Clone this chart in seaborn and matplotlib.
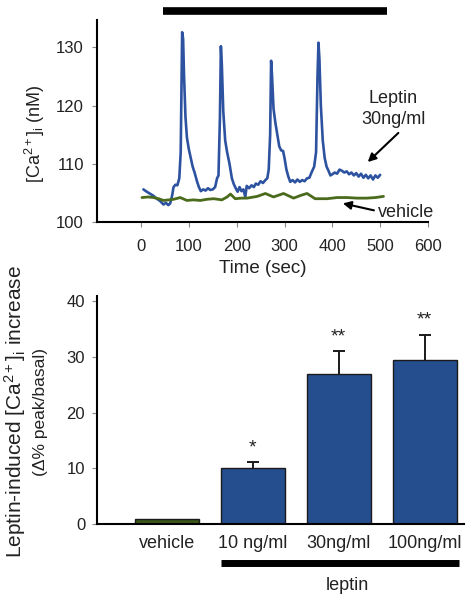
import matplotlib
matplotlib.use("Agg")
import matplotlib.pyplot as plt
import matplotlib.transforms as mtransforms
import seaborn as sns
import pandas as pd
import numpy as np

# ---------------- data ----------------
leptin_t = [5, 12, 20, 26, 33, 40, 47, 52, 57, 61, 65, 68, 72, 76, 80, 83, 86, 88, 90, 93,
            96, 100, 104, 108, 112, 117, 121, 125, 130, 135, 140, 145, 150, 155, 159, 162, 165, 167,
            169, 172, 176, 180, 185, 190, 194, 198, 202, 206, 210, 214, 218, 221, 226, 231, 236,
            240, 245, 250, 255, 260, 264, 267, 270, 272, 274, 277, 281, 285, 289, 293, 297, 300,
            304, 308, 312, 317, 322, 327, 332, 337, 342, 347, 352, 357, 362, 366, 369, 371, 373,
            376, 380, 384, 388, 392, 396, 400, 405, 410, 415, 420, 425, 430, 435, 440, 445, 450,
            455, 460, 465, 470, 475, 480, 485, 490, 495, 500]
leptin_ca = [105.6, 105.2, 104.8, 104.5, 104.0, 103.6, 103.0, 103.3, 102.9, 103.2, 104.5, 106.0,
             106.4, 106.3, 107.5, 112.0, 132.6, 131.5, 125.0, 118.0, 114.5, 112.5, 111.0, 109.5,
             108.5, 107.0, 106.0, 105.3, 105.6, 105.4, 105.8, 105.5, 105.6, 106.0, 107.5, 108.0,
             118.0, 130.2, 127.0, 119.0, 114.0, 112.0, 110.0, 107.5, 106.5, 105.8, 105.2, 106.0,
             105.3, 105.6, 104.3, 106.2, 105.8, 106.3, 106.0, 106.6, 106.4, 107.0, 106.7, 107.2,
             107.5, 109.0, 115.0, 127.7, 125.0, 119.5, 117.0, 115.0, 113.0, 112.3, 112.2, 111.0,
             109.0, 107.8, 106.9, 107.2, 106.8, 107.3, 106.9, 107.2, 107.0, 107.5, 107.6, 108.6,
             109.5, 112.0, 125.0, 130.8, 128.0, 120.0, 114.0, 111.0, 109.5, 108.8, 108.0, 108.2,
             108.5, 108.3, 109.0, 108.8, 108.5, 108.7, 108.2, 108.5, 108.0, 108.4, 107.8, 108.3,
             107.6, 108.1, 107.5, 108.0, 107.3, 108.0, 107.6, 108.1]

vehicle_t = [2, 15, 26, 37, 47, 58, 68, 82, 96, 110, 124, 138, 152, 169, 180, 187, 197, 210,
             222, 243, 260, 277, 298, 319, 335, 347, 364, 389, 410, 431, 452, 472, 490, 507]
vehicle_ca = [104.2, 104.3, 104.2, 104.0, 103.7, 103.8, 103.9, 104.2, 103.7, 103.8, 103.7, 103.9,
              104.0, 103.8, 104.3, 104.8, 104.0, 104.1, 104.1, 104.4, 104.9, 104.3, 104.9, 104.1,
              104.6, 104.9, 104.0, 104.0, 104.2, 104.2, 104.1, 104.1, 104.2, 104.4]

stim_bar_sec = [45, 515]

groups = ["vehicle", "10 ng/ml", "30ng/ml", "100ng/ml"]
increase = [1.0, 10.0, 26.9, 29.5]
sem = [0.0, 1.1, 4.1, 4.5]
signif = ["", "*", "**", "**"]

top_yticks = [100, 110, 120, 130]
top_xticks = [0, 100, 200, 300, 400, 500, 600]
bot_yticks = [0, 10, 20, 30, 40]

BLUE_LINE = "#2d52a0"
GREEN_LINE = "#4a6a1c"
BLUE_BAR = "#254e8e"
GREEN_BAR = "#3b5618"

# ---------------- style ----------------
sns.set_style("ticks")
plt.rcParams["font.family"] = ["Liberation Sans", "DejaVu Sans"]
plt.rcParams["mathtext.fontset"] = "custom"
plt.rcParams["mathtext.rm"] = "Liberation Sans"
plt.rcParams["mathtext.it"] = "Liberation Sans:italic"
plt.rcParams["mathtext.bf"] = "Liberation Sans:bold"

fig = plt.figure(figsize=(4.69, 6.01), dpi=100)
W, H = 469, 601

def ax_rect(l, r, t, b):
    return [l / W, 1 - b / H, (r - l) / W, (b - t) / H]

# ---------------- top panel ----------------
ax1 = fig.add_axes(ax_rect(97, 428, 20, 222))
df_l = pd.DataFrame({"t": leptin_t, "ca": leptin_ca})
df_v = pd.DataFrame({"t": vehicle_t, "ca": vehicle_ca})
sns.lineplot(data=df_l, x="t", y="ca", ax=ax1, color=BLUE_LINE, lw=1.9, estimator=None)
sns.lineplot(data=df_v, x="t", y="ca", ax=ax1, color=GREEN_LINE, lw=2.0, estimator=None)
ax1.set_xlim(-92, 600)
ax1.set_ylim(100, 134.7)
ax1.set_xticks(top_xticks)
ax1.set_yticks(top_yticks)
ax1.tick_params(axis="both", labelsize=12, length=3.5, width=0.8, color="#888888",
                labelcolor="#222222", pad=6)
ax1.tick_params(axis="x", pad=9)
for s in ["top", "right"]:
    ax1.spines[s].set_visible(False)
for s in ["left", "bottom"]:
    ax1.spines[s].set_linewidth(1.5)
    ax1.spines[s].set_color("black")
ax1.set_xlabel("Time (sec)", fontsize=13.5, color="#222222", labelpad=4)
ax1.set_ylabel("")
fig.text(35 / W, 1 - 134 / H, r"[Ca$^{2+}$]$_\mathrm{i}$ (nM)", rotation=90,
         ha="center", va="center", fontsize=13, color="#222222")

trans1 = mtransforms.blended_transform_factory(ax1.transData, ax1.transAxes)
ax1.plot(stim_bar_sec, [1.045, 1.045], transform=trans1, color="black", lw=5.5,
         solid_capstyle="butt", clip_on=False)

ax1.text(527, 121.3, "Leptin", ha="center", va="center", fontsize=13, color="#222222")
ax1.text(527, 117.6, "30ng/ml", ha="center", va="center", fontsize=13, color="#222222")
ax1.annotate("", xy=(474, 110.3), xytext=(538, 115.3),
             arrowprops=dict(arrowstyle="-|>", color="black", lw=1.5, mutation_scale=12,
                             shrinkA=0, shrinkB=0), annotation_clip=False)
ax1.text(495, 101.7, "vehicle", ha="left", va="center", fontsize=13, color="#222222",
         clip_on=False)
ax1.annotate("", xy=(422, 103.2), xytext=(487, 102.0),
             arrowprops=dict(arrowstyle="-|>", color="black", lw=1.5, mutation_scale=12,
                             shrinkA=0, shrinkB=0), annotation_clip=False)

# ---------------- bottom panel ----------------
ax2 = fig.add_axes(ax_rect(97, 464, 296, 524.3))
df_b = pd.DataFrame({"group": groups, "inc": increase})
sns.barplot(data=df_b, x="group", y="inc", hue="group", ax=ax2,
            palette=[GREEN_BAR, BLUE_BAR, BLUE_BAR, BLUE_BAR], width=0.746, saturation=1,
            edgecolor="#1a1a1a", linewidth=1.0, legend=False, errorbar=None, zorder=2)
pos = np.arange(len(groups))
eb = ax2.errorbar(pos[1:], increase[1:], yerr=[[0] * 3, sem[1:]], fmt="none",
                  ecolor="#1a1a1a", elinewidth=1.4, capsize=4, capthick=1.4, zorder=1)
caps = eb[1]
if len(caps) == 2:
    caps[0].set_visible(False)
for p, v, e, s in zip(pos, increase, sem, signif):
    if s:
        ax2.text(p, v + e + 2.6, s, ha="center", va="center", fontsize=14, color="#222222")
ax2.set_xlim(-0.816, 3.46)
ax2.set_ylim(0, 40.9)
ax2.set_yticks(bot_yticks)
ax2.tick_params(axis="y", labelsize=12, length=3.5, width=0.8, color="#888888",
                labelcolor="#222222", pad=5)
ax2.tick_params(axis="x", labelsize=13, length=0, labelcolor="#222222", pad=8)
for s in ["top", "right"]:
    ax2.spines[s].set_visible(False)
for s in ["left", "bottom"]:
    ax2.spines[s].set_linewidth(1.5)
    ax2.spines[s].set_color("black")
ax2.set_xlabel("")
ax2.set_ylabel("")

trans2 = mtransforms.blended_transform_factory(ax2.transData, ax2.transAxes)
ax2.plot([0.627, 3.40], [-0.17, -0.17], transform=trans2, color="black", lw=5,
         solid_capstyle="butt", clip_on=False)
ax2.text(2.1, -0.266, "leptin", transform=trans2, ha="center", va="center",
         fontsize=13, color="#222222")

fig.text(15 / W, 1 - 411 / H, r"Leptin-induced [Ca$^{2+}$]$_\mathrm{i}$ increase",
         rotation=90, ha="center", va="center", fontsize=15, color="#222222")
fig.text(40 / W, 1 - 412 / H, "(\u0394% peak/basal)", rotation=90, ha="center",
         va="center", fontsize=12.5, color="#222222")

fig.savefig("out.png", dpi=100)
